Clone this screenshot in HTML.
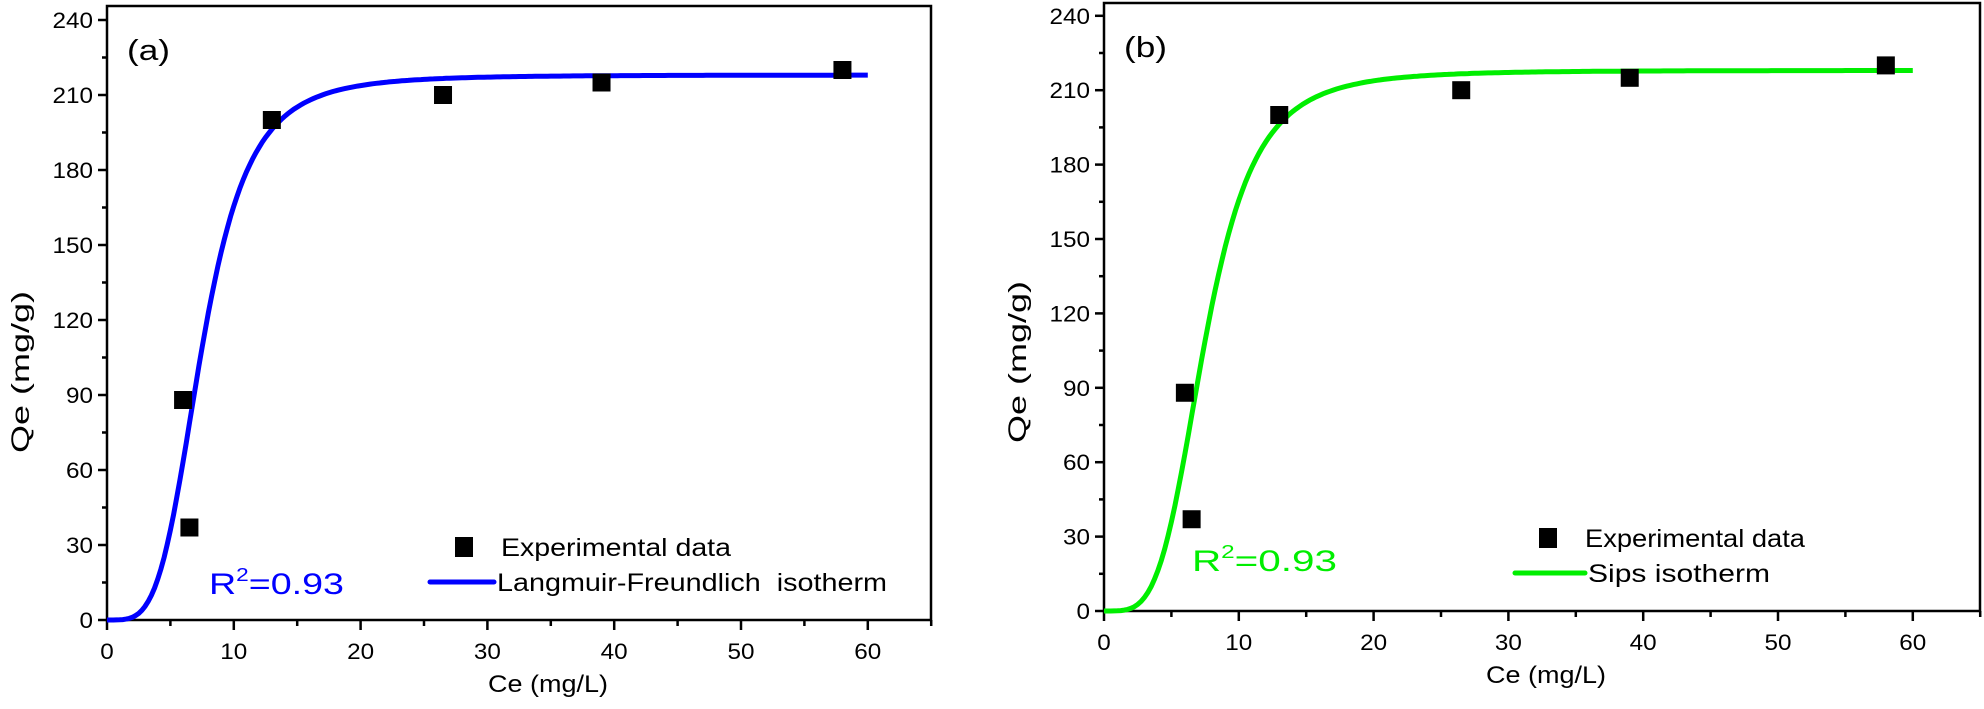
<!DOCTYPE html>
<html><head><meta charset="utf-8"><style>
html,body{margin:0;padding:0;background:#fff;}
svg text{font-family:"Liberation Sans",Arial,sans-serif;fill:#000;}
</style></head><body>
<svg id="s" width="1984" height="704" xmlns="http://www.w3.org/2000/svg"></svg>
<script>
const s=document.getElementById('s');let h='';
function T(x,y,size,anchor,str,len,col){
 return `<text x="${x}" y="${y}" font-size="${size}" text-anchor="${anchor}" textLength="${len}" lengthAdjust="spacingAndGlyphs" xml:space="preserve"${col?` style="fill:${col}"`:''}>${str}</text>`;
}
function plot(o){
 const {x0,y0,yTop,xr,ppx,ppy,col,lab,leg}=o;
 const X=v=>x0+v*ppx, Y=v=>y0-v*ppy;
 h+=`<rect x="${x0}" y="${yTop}" width="${xr-x0}" height="${y0-yTop}" fill="none" stroke="#000" stroke-width="2.5"/>`;
 for(let v=0;v<=240;v+=15){const y=Y(v),maj=v%30==0;
  h+=`<line x1="${x0}" x2="${x0-(maj?9:5)}" y1="${y}" y2="${y}" stroke="#000" stroke-width="2.5"/>`;
  if(maj){const t=String(v);h+=T(x0-14,y+8,22,'end',t,t.length*13.5);}}
 for(let v=0;v<=65;v+=5){const x=X(v),maj=v%10==0;
  h+=`<line x1="${x}" x2="${x}" y1="${y0}" y2="${y0+(maj?10:6)}" stroke="#000" stroke-width="2.5"/>`;
  if(maj){const t=String(v);h+=T(x,y0+39,22,'middle',t,t.length*13.5);}}
 h+=T(o.cx,y0+72,24,'middle','Ce (mg/L)',120);
 h+=`<g transform="translate(${x0-78},${o.qy}) rotate(-90)">`+T(0,0,25,'middle','Qe (mg/g)',162)+`</g>`;
 h+=T(x0+20,yTop+54,29,'start',lab,43);
 let d='';for(let c=0;c<=60;c+=0.25){const q=218*Math.pow(c/7.5,4)/(1+Math.pow(c/7.5,4));d+=(c?'L':'M')+X(c).toFixed(1)+','+Y(q).toFixed(1);}
 h+=`<path d="${d}" fill="none" stroke="${col}" stroke-width="5"/>`;
 [[6,88],[6.5,37],[13,200],[26.5,210],[39,215],[58,220]].forEach(p=>{h+=`<rect x="${X(p[0])-9}" y="${Y(p[1])-9}" width="18" height="18" fill="#000"/>`;});
 h+=`<rect x="${leg.mx}" y="${leg.my}" width="18" height="20" fill="#000"/>`;
 h+=T(leg.tx,leg.ty,25,'start','Experimental data',leg.elen);
 h+=`<line x1="${leg.lx1}" x2="${leg.lx2}" y1="${leg.ly}" y2="${leg.ly}" stroke="${col}" stroke-width="5" stroke-linecap="round"/>`;
 h+=T(leg.lx2+3,leg.ly+9,25,'start',leg.name,leg.nlen);
 h+=`<text x="${leg.rx}" y="${leg.ry}" font-size="30" textLength="${leg.rlen}" lengthAdjust="spacingAndGlyphs" style="fill:${col}">R<tspan dy="-13" font-size="18" style="fill:${col}">2</tspan><tspan dy="13" style="fill:${col}">=0.93</tspan></text>`;
}
plot({x0:107,y0:620,yTop:6,xr:931,ppx:12.68,ppy:2.5,col:'#0000ff',lab:'(a)',cx:548,qy:372,
 leg:{mx:455,my:537,tx:501,ty:556,elen:230,lx1:430,lx2:494,ly:582,name:'Langmuir-Freundlich  isotherm',nlen:390,rx:209,ry:594,rlen:135}});
plot({x0:1104,y0:611,yTop:3,xr:1980,ppx:13.48,ppy:2.48,col:'#00ee00',lab:'(b)',cx:1546,qy:362,
 leg:{mx:1539,my:528,tx:1585,ty:547,elen:220,lx1:1515,lx2:1585,ly:573,name:'Sips isotherm',nlen:182,rx:1192,ry:571,rlen:145}});
s.innerHTML=h;
</script>
</body></html>
